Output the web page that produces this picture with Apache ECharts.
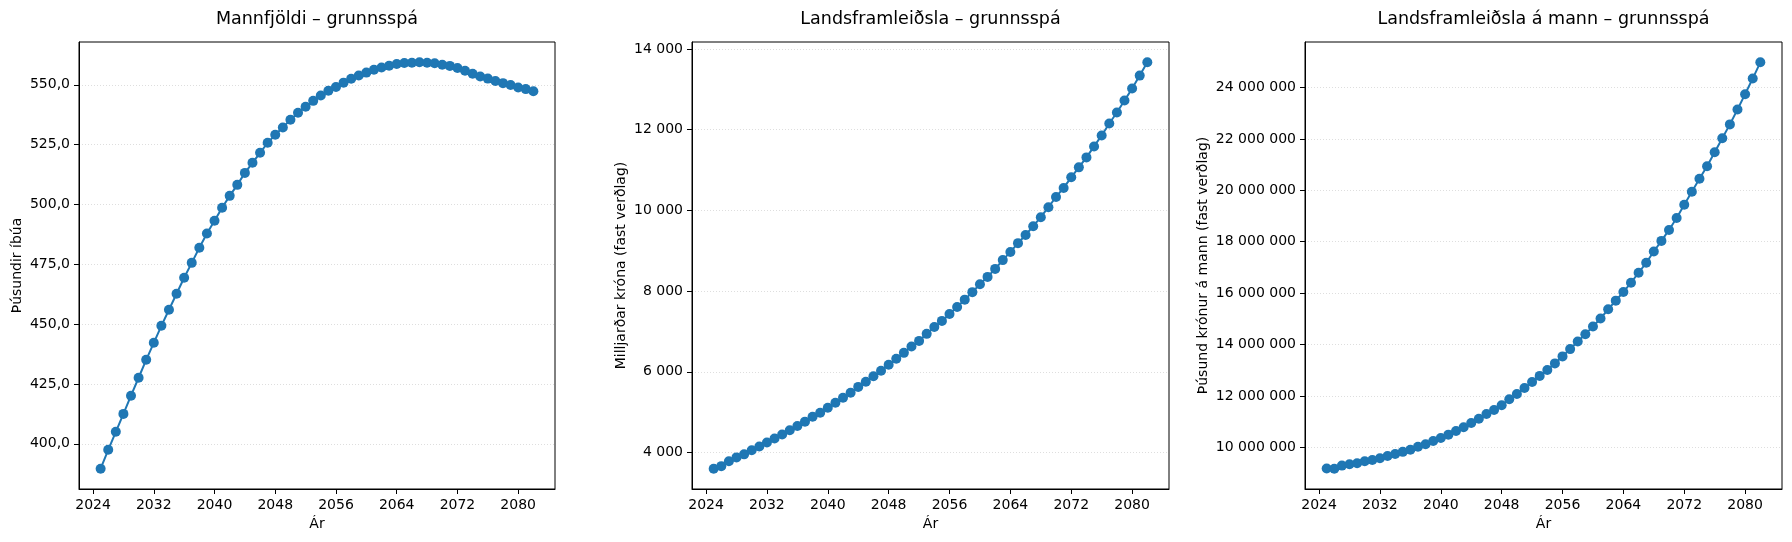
<!DOCTYPE html>
<html>
<head>
<meta charset="utf-8">
<script src="https://cdn.jsdelivr.net/npm/echarts@6/dist/echarts.min.js"></script>
<style>
  html, body { margin: 0; padding: 0; background: #fff; }
  #chart { width: 1792px; height: 542px; }
</style>
</head>
<body>
<div id="chart"></div>
<script>
const years = [
  2025, 2026, 2027, 2028, 2029, 2030, 2031, 2032, 2033, 2034,
  2035, 2036, 2037, 2038, 2039, 2040, 2041, 2042, 2043, 2044,
  2045, 2046, 2047, 2048, 2049, 2050, 2051, 2052, 2053, 2054,
  2055, 2056, 2057, 2058, 2059, 2060, 2061, 2062, 2063, 2064,
  2065, 2066, 2067, 2068, 2069, 2070, 2071, 2072, 2073, 2074,
  2075, 2076, 2077, 2078, 2079, 2080, 2081, 2082
]

// þúsundir íbúa
const population = [
  389.6, 397.5, 405.0, 412.5, 420.1, 427.6, 435.1, 442.2, 449.3, 456.0,
  462.7, 469.4, 475.6, 481.9, 487.9, 493.2, 498.6, 503.6, 508.2, 513.2,
  517.4, 521.6, 525.8, 529.1, 532.2, 535.4, 538.3, 540.8, 543.3, 545.5,
  547.5, 549.1, 550.9, 552.5, 553.9, 555.1, 556.3, 557.2, 558.0, 558.7,
  559.1, 559.2, 559.4, 559.2, 559.0, 558.4, 557.9, 557.0, 555.9, 554.6,
  553.5, 552.6, 551.6, 550.7, 549.9, 548.9, 548.2, 547.3
]

// milljarðar króna
const gdp = [
  3600, 3663, 3782, 3880, 3955, 4058, 4148, 4251, 4346, 4445,
  4552, 4659, 4766, 4885, 4988, 5108, 5236, 5359, 5482, 5627,
  5754, 5890, 6026, 6174, 6322, 6470, 6627, 6767, 6941, 7110,
  7262, 7435, 7608, 7789, 7975, 8172, 8353, 8551, 8769, 8971,
  9189, 9391, 9609, 9832, 10079, 10334, 10557, 10820, 11067, 11314,
  11586, 11858, 12155, 12426, 12723, 13019, 13341, 13670
]

// á mann
const gdpPerCapita = [
  9180000, 9170000, 9290000, 9340000, 9380000, 9460000, 9505000, 9575000, 9660000, 9740000,
  9825000, 9910000, 10025000, 10120000, 10245000, 10365000, 10495000, 10635000, 10785000, 10950000,
  11110000, 11295000, 11450000, 11640000, 11870000, 12078000, 12310000, 12545000, 12780000, 13009000,
  13267000, 13539000, 13823000, 14120000, 14404000, 14701000, 15011000, 15373000, 15708000, 16044000,
  16406000, 16793000, 17181000, 17620000, 18033000, 18459000, 18924000, 19441000, 19945000, 20448000,
  20939000, 21481000, 22024000, 22566000, 23147000, 23742000, 24349000, 24981000
]

const yearTicks = [2024, 2032, 2040, 2048, 2056, 2064, 2072, 2080]
const popTicks = [400, 425, 450, 475, 500, 525, 550]
const gdpTicks = [4000, 6000, 8000, 10000, 12000, 14000]
const perCapitaTicks = [10000000, 12000000, 14000000, 16000000, 18000000, 20000000, 22000000, 24000000]

const titles = [
  'Mannfjöldi – grunnsspá',
  'Landsframleiðsla – grunnsspá',
  'Landsframleiðsla á mann – grunnsspá'
]
const yNames = [
  'Þúsundir íbúa',
  'Milljarðar króna (fast verðlag)',
  'Þúsund krónur á mann (fast verðlag)'
]

const FONT = 'DejaVu Sans'
const BLUE = '#1f77b4'

const grids = [
  { left: 79, top: 42, width: 476, height: 447 },
  { left: 692, top: 42, width: 477, height: 447 },
  { left: 1305, top: 42, width: 477, height: 447 }
]
const nameGaps = [55, 64, 95]

function spaced(v) {
  return String(Math.round(v)).replace(/\B(?=(\d{3})+(?!\d))/g, ' ')
}
function commaDecimal(v) {
  return v.toFixed(1).replace('.', ',')
}

// matplotlib-style 5% margins
function padMin(e) { return e.min - (e.max - e.min) * 0.05 }
function padMax(e) { return e.max + (e.max - e.min) * 0.05 }

const seriesData = [population, gdp, gdpPerCapita]
const yTicks = [popTicks, gdpTicks, perCapitaTicks]
const yFormat = [commaDecimal, spaced, spaced]

const labelStyle = { color: '#000', fontFamily: FONT, fontSize: 14 }

const option = {
  backgroundColor: '#fff',
  animation: false,
  title: titles.map((t, i) => ({
    text: t,
    left: grids[i].left + grids[i].width / 2,
    top: 10,
    padding: 0,
    textAlign: 'center',
    textStyle: { color: '#000', fontFamily: FONT, fontSize: 17.5, fontWeight: 'normal' }
  })),
  grid: grids.map(g => Object.assign({
    show: true, borderColor: '#000', borderWidth: 1, containLabel: false
  }, g)),
  xAxis: grids.map((g, i) => ({
    type: 'value',
    gridIndex: i,
    min: padMin({ min: years[0], max: years[years.length - 1] }),
    max: padMax({ min: years[0], max: years[years.length - 1] }),
    name: 'Ár',
    nameLocation: 'middle',
    nameGap: 27,
    nameTextStyle: labelStyle,
    axisLine: { show: true, lineStyle: { color: '#000', width: 1 } },
    axisTick: { show: true, length: 5, lineStyle: { color: '#000' }, customValues: yearTicks },
    axisLabel: Object.assign({ margin: 9, customValues: yearTicks, formatter: v => String(v) }, labelStyle),
    splitLine: { show: false }
  })),
  yAxis: grids.map((g, i) => ({
    type: 'value',
    gridIndex: i,
    min: padMin,
    max: padMax,
    name: yNames[i],
    nameLocation: 'middle',
    nameGap: nameGaps[i],
    nameTextStyle: labelStyle,
    axisLine: { show: true, lineStyle: { color: '#000', width: 1 } },
    axisTick: { show: true, length: 5, lineStyle: { color: '#000' }, customValues: yTicks[i] },
    axisLabel: Object.assign({ margin: 9, customValues: yTicks[i], formatter: yFormat[i] }, labelStyle),
    splitLine: { show: true, lineStyle: { color: '#d6d6d6', type: [1, 2], width: 0.8 } }
  })),
  series: seriesData.map((vals, i) => ({
    type: 'line',
    xAxisIndex: i,
    yAxisIndex: i,
    data: years.map((y, k) => [y, vals[k]]),
    symbol: 'circle',
    symbolSize: 10,
    showSymbol: true,
    itemStyle: { color: BLUE },
    lineStyle: { color: BLUE, width: 2 }
  }))
}

const chart = echarts.init(document.getElementById('chart'), null, { renderer: 'canvas' })
chart.setOption(option)
</script>
</body>
</html>
